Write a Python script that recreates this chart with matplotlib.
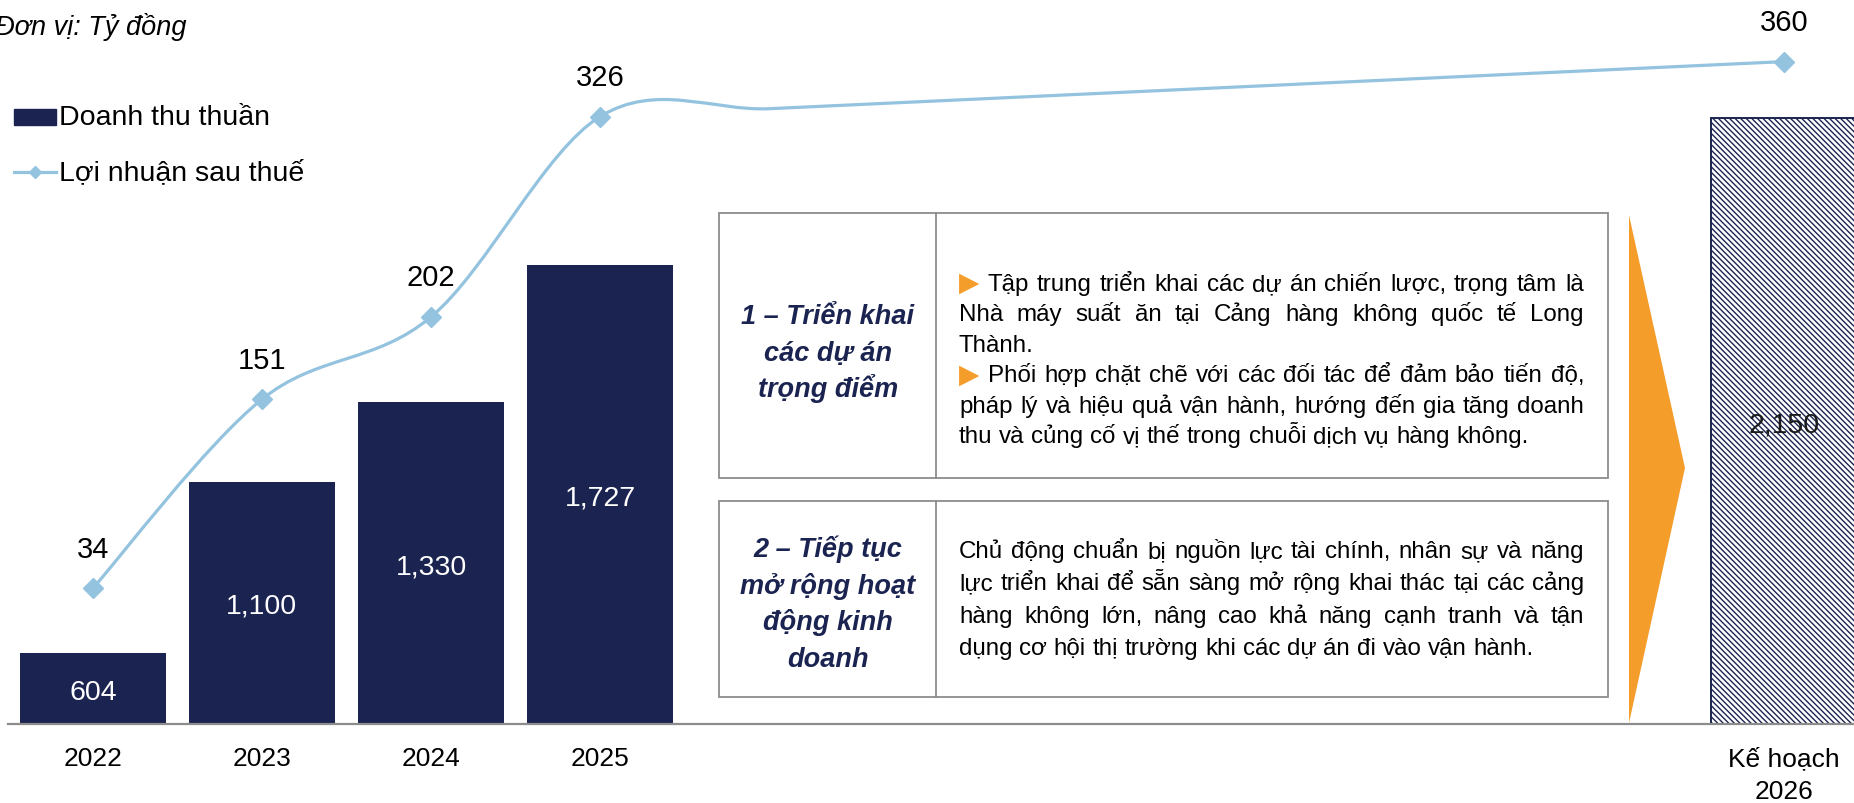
import numpy as np
import matplotlib
matplotlib.use('Agg')
import matplotlib.pyplot as plt
from matplotlib.patches import Rectangle, Polygon, PathPatch
from matplotlib.path import Path
from matplotlib.lines import Line2D

# ---------------- data ----------------
categories = ['2022', '2023', '2024', '2025', 'Kế hoạch\n2026']
revenue = [604, 1100, 1330, 1727, 2150]          # Doanh thu thuần
profit = [34, 151, 202, 326, 360]                # Lợi nhuận sau thuế
series_names = ['Doanh thu thuần', 'Lợi nhuận sau thuế']
unit_text = 'Đơn vị: Tỷ đồng'

BULLET = '▶'
box1_title = ['1 – Triển khai', 'các dự án', 'trọng điểm']
box1_lines = [
    (BULLET + ' Tập trung triển khai các dự án chiến lược, trọng tâm là', True),
    ('Nhà máy suất ăn tại Cảng hàng không quốc tế Long', True),
    ('Thành.', False),
    (BULLET + ' Phối hợp chặt chẽ với các đối tác để đảm bảo tiến độ,', True),
    ('pháp lý và hiệu quả vận hành, hướng đến gia tăng doanh', True),
    ('thu và củng cố vị thế trong chuỗi dịch vụ hàng không.', False),
]
box2_title = ['2 – Tiếp tục', 'mở rộng hoạt', 'động kinh', 'doanh']
box2_lines = [
    ('Chủ động chuẩn bị nguồn lực tài chính, nhân sự và năng', True),
    ('lực triển khai để sẵn sàng mở rộng khai thác tại các cảng', True),
    ('hàng không lớn, nâng cao khả năng cạnh tranh và tận', True),
    ('dụng cơ hội thị trường khi các dự án đi vào vận hành.', False),
]

# ---------------- style / layout ----------------
NAVY = '#1B2451'
BLUE = '#93C3DF'
ORANGE = '#F59D2A'
GRAY = '#8C8C8C'
slot = [0, 1, 2, 3, 10]     # category slots (gap between 2025 and plan 2026)
W, H = 1854, 804

plt.rcParams['font.family'] = ['Liberation Sans', 'DejaVu Sans']
plt.rcParams['hatch.linewidth'] = 1.0

fig = plt.figure(figsize=(W / 100, H / 100), dpi=100)
ax = fig.add_axes([8.3 / W, (H - 725) / H, 1860 / W, 727 / H])
ax.set_xlim(-0.5, 10.5)
ax.set_ylim(400, 2500)

ax.bar(slot[:4], revenue[:4], width=0.86, color=NAVY, zorder=2)
ax.bar(slot[4], revenue[4], width=0.86, facecolor='white', edgecolor=NAVY,
       hatch='\\' * 6, linewidth=1.4, zorder=2)

ymin = ax.get_ylim()[0]
for i, v in enumerate(revenue):
    col = 'white' if i < 4 else '#1a1a1a'
    ax.text(slot[i], (ymin + v) / 2 - 9, f'{v:,}', ha='center', va='center',
            fontsize=20.5, color=col, zorder=4)

for s in ['top', 'left', 'right']:
    ax.spines[s].set_visible(False)
ax.spines['bottom'].set_color(GRAY)
ax.spines['bottom'].set_linewidth(1.6)
ax.set_yticks([])
ax.set_xticks(slot)
ax.set_xticklabels(categories, fontsize=19, linespacing=1.45)
ax.tick_params(axis='x', length=0, pad=16)

# secondary axis for profit line
ax2 = ax.twinx()
ax2.set_ylim(-50, 400)
ax2.set_yticks([])
for s in ax2.spines.values():
    s.set_visible(False)


def excel_smooth(xs, ys):
    # Excel joins empty categories with straight segments, then smooths with Bezier curves
    gx = np.arange(xs[0], xs[-1] + 1)
    gy = np.interp(gx, xs, ys)
    P = np.column_stack([gx, gy]).astype(float)
    n = len(P)
    verts = [P[0]]
    codes = [Path.MOVETO]
    for i in range(n - 1):
        p0 = P[i - 1] if i > 0 else P[i]
        p1, p2 = P[i], P[i + 1]
        p3 = P[i + 2] if i + 2 < n else P[i + 1]
        verts += [p1 + (p2 - p0) / 6, p2 - (p3 - p1) / 6, p2]
        codes += [Path.CURVE4] * 3
    return Path(verts, codes)


ax2.add_patch(PathPatch(excel_smooth(slot, profit), fill=False, edgecolor=BLUE,
                        linewidth=2.3, capstyle='round', zorder=3))
ax2.plot(slot, profit, ls='none', marker='D', ms=10, color=BLUE, zorder=4)
for x, v in zip(slot, profit):
    ax2.annotate(str(v), (x, v), xytext=(0, 28.5), textcoords='offset points',
                 ha='center', va='center', fontsize=21, color='black')

# ---------------- overlay (pixel coordinates) ----------------
ov = fig.add_axes([0, 0, 1, 1], zorder=10)
ov.set_xlim(0, W)
ov.set_ylim(H, 0)
ov.axis('off')
ov.patch.set_visible(False)

ov.text(-5, 27, unit_text, fontsize=19.5, style='italic', ha='left', va='center')

# legend
ov.add_patch(Rectangle((14, 110), 42, 16, color=NAVY))
ov.text(59, 118, series_names[0], fontsize=20.5, ha='left', va='center')
ov.add_line(Line2D([14, 56], [173, 173], color=BLUE, lw=2.3))
ov.add_line(Line2D([35], [173], color=BLUE, marker='D', ms=6, ls='none'))
ov.text(59, 173, series_names[1], fontsize=20.5, ha='left', va='center')

# boxes
bx0, bx1, div = 719, 1608, 936
for top, bot in [(214, 479), (502, 698)]:
    ov.add_patch(Rectangle((bx0, top), bx1 - bx0, bot - top, facecolor='white',
                           edgecolor=GRAY, lw=1.3))
    ov.add_line(Line2D([div, div], [top, bot], color=GRAY, lw=1.3))

# orange arrow
ov.add_patch(Polygon([(1629, 216), (1685, 469), (1629, 724)], closed=True,
                     color=ORANGE, lw=0))

# titles
def title_block(lines, y0, dy):
    for k, t in enumerate(lines):
        ov.text(828, y0 + k * dy, t, fontsize=19.5, weight='bold', style='italic',
                color=NAVY, ha='center', va='baseline')

title_block(box1_title, 324, 36.6)
title_block(box2_title, 557, 36.6)

# justified body text
renderer = fig.canvas.get_renderer()
probe = ov.text(0, 0, box1_lines[-1][0], fontsize=20)
pw = probe.get_window_extent(renderer).width
probe.remove()
body_fs = 20 * 569 / pw
tx0, tx1 = 959, 1584
ARROW_FS = body_fs * 1.1


def word_width(w, fs, fam=None):
    kw = {'family': fam} if fam else {}
    t = ov.text(0, 0, w, fontsize=fs, **kw)
    ww = t.get_window_extent(renderer).width
    t.remove()
    return ww


space_w = word_width('a b', body_fs) - word_width('ab', body_fs)


def body_block(lines, y0, dy):
    for k, (line, justify) in enumerate(lines):
        y = y0 + k * dy
        words = line.split(' ')
        fams = ['DejaVu Sans' if w == BULLET else None for w in words]
        widths = [word_width(w, ARROW_FS if w == BULLET else body_fs, f)
                  for w, f in zip(words, fams)]
        if justify and len(words) > 1:
            gap = (tx1 - tx0 - sum(widths)) / (len(words) - 1)
        else:
            gap = space_w
        x = tx0
        for w, f, ww in zip(words, fams, widths):
            if w == BULLET:
                ov.text(x, y, w, fontsize=ARROW_FS, family='DejaVu Sans',
                        color=ORANGE, ha='left', va='baseline')
            else:
                ov.text(x, y, w, fontsize=body_fs, color='black',
                        ha='left', va='baseline')
            x += ww + gap


body_block(box1_lines, 291, 30.4)
body_block(box2_lines, 558, 32.3)

fig.savefig('out.png', dpi=100)
